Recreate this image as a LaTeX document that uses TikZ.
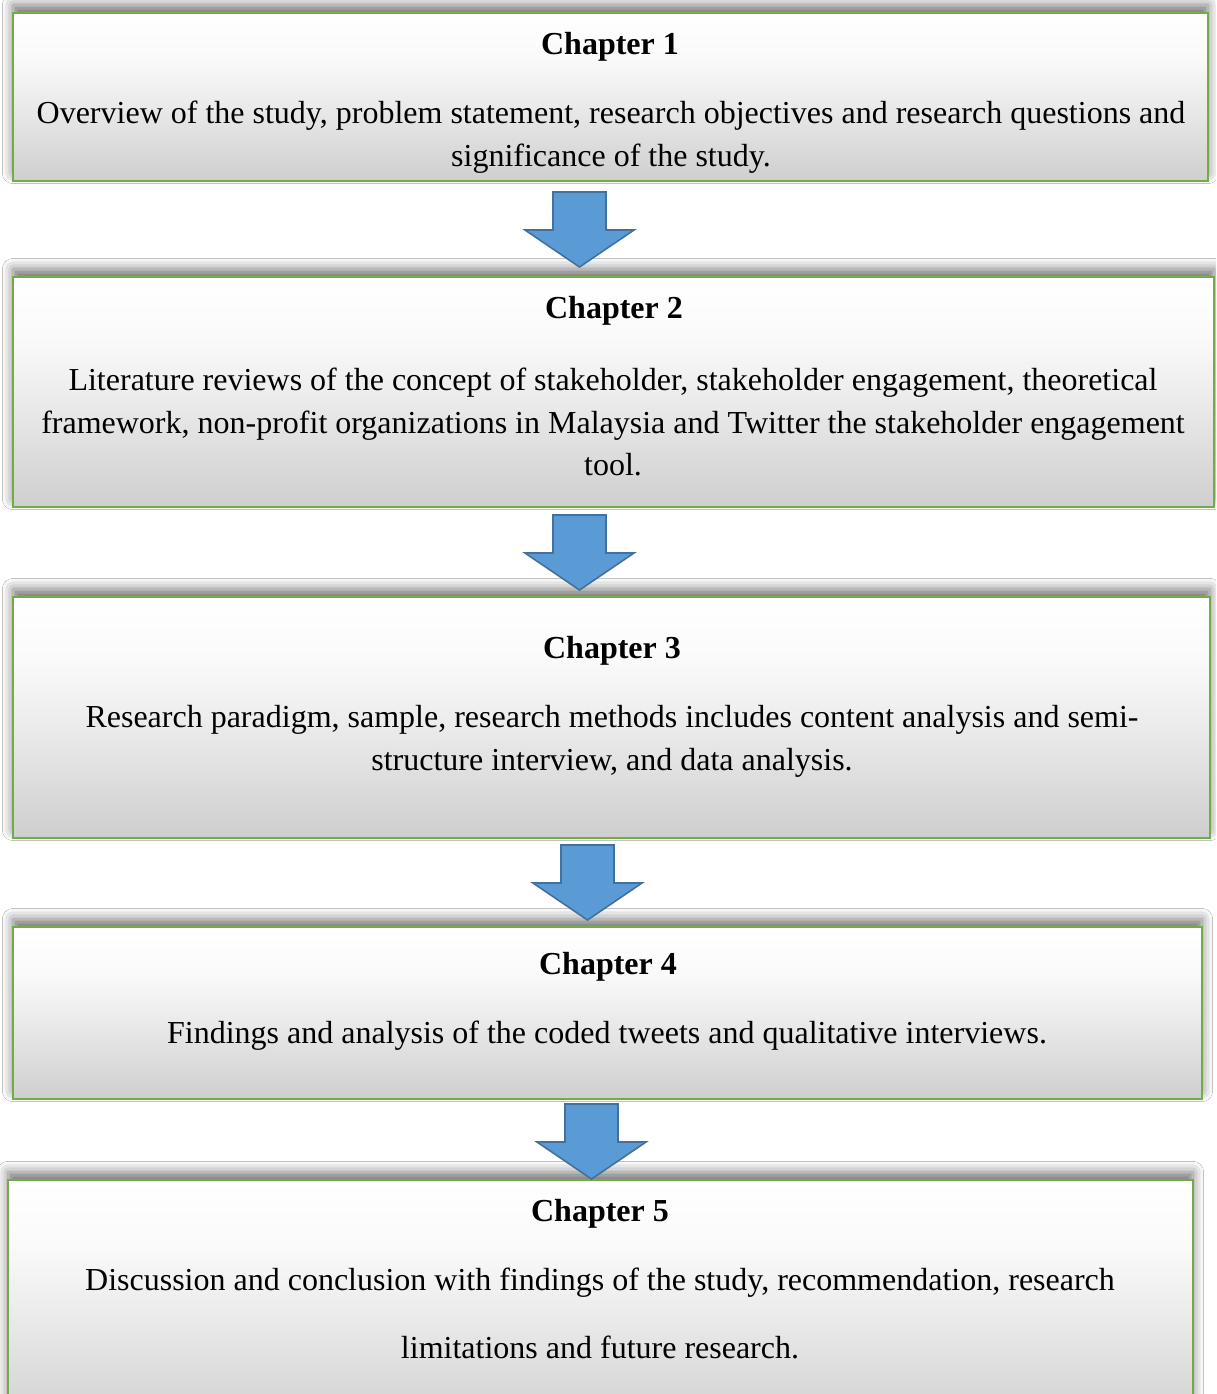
\documentclass[tikz,border=0pt]{standalone}
\usepackage{fontspec}
\setmainfont{Liberation Serif}
\usetikzlibrary{fit,shadows.blur}

\definecolor{boxgreen}{HTML}{70AD47}
\definecolor{arrowblue}{HTML}{5B9BD5}
\definecolor{arrowedge}{HTML}{41719C}
\pgfdeclareverticalshading{chapshade}{100bp}{color(0bp)=(black!19); color(25bp)=(black!19);
  color(50bp)=(white!93!black); color(62bp)=(white!98!black); color(75bp)=(white); color(100bp)=(white)}

\tikzset{
  chapbox/.style={draw=boxgreen, line width=1pt, inner sep=0pt, shading=chapshade,
    blur shadow={shadow xshift=0pt, shadow yshift=3pt, shadow blur radius=4pt, shadow opacity=55}},
  chaptitle/.style={font=\fontsize{12}{16}\selectfont\bfseries},
  chaptext/.style={font=\fontsize{12}{16.1}\selectfont, align=center, inner sep=0pt},
  arrowfill/.style={fill=arrowblue, draw=arrowedge, line width=0.6pt, line join=miter},
  pics/downarrow/.style={code={
    \draw[arrowfill] (-26.5,0) -- (26.5,0) -- (26.5,38) -- (54.5,38) -- (0,75)
      -- (-54.5,38) -- (-26.5,38) -- cycle;}}
}

\begin{document}
\begin{tikzpicture}[x=0.375pt, y=-0.375pt]
  \clip (0,0) rectangle (1216,1394);
  \fill[white] (0,0) rectangle (1216,1394);

  % chapter boxes
  \node[chapbox, fit={(13,13) (1208,181)}] (ch1) {};
  \node[chapbox, fit={(13,277) (1214,507)}] (ch2) {};
  \node[chapbox, fit={(13,597) (1210,838)}] (ch3) {};
  \node[chapbox, fit={(13,927) (1202,1099)}] (ch4) {};
  \node[chapbox, fit={(8,1180) (1193,1430)}] (ch5) {};

  % titles and texts
  \node[chaptitle] (t1) at (610,47) {Chapter 1};
  \node[chaptext] (b1) at (611,137) {Overview of the study, problem statement, research objectives and research questions and\\significance of the study.};

  \node[chaptitle] (t2) at (614,311) {Chapter 2};
  \node[chaptext] (b2) at (613,422) {Literature reviews of the concept of stakeholder, stakeholder engagement, theoretical\\framework, non-profit organizations in Malaysia and Twitter the stakeholder engagement\\tool.};

  \node[chaptitle] (t3) at (612,651) {Chapter 3};
  \node[chaptext] (b3) at (612,741) {Research paradigm, sample, research methods includes content analysis and semi-\\structure interview, and data analysis.};

  \node[chaptitle] (t4) at (608,967) {Chapter 4};
  \node[chaptext] (b4) at (607,1036) {Findings and analysis of the coded tweets and qualitative interviews.};

  \node[chaptitle] (t5) at (600,1214) {Chapter 5};
  \node[chaptext, font=\fontsize{12}{25.5}\selectfont] (b5) at (600,1313) {Discussion and conclusion with findings of the study, recommendation, research\\limitations and future research.};

  % block arrows
  \pic at (579.5,192) {downarrow};
  \pic at (579.5,515) {downarrow};
  \pic at (587.5,845) {downarrow};
  \pic at (591.5,1104) {downarrow};
\end{tikzpicture}
\end{document}
